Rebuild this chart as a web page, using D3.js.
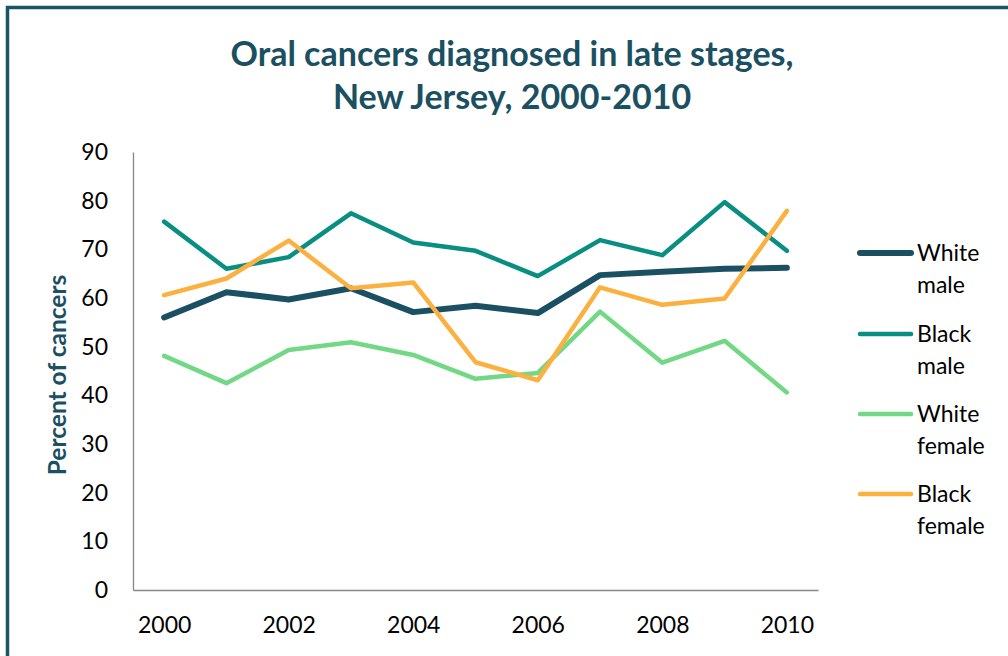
<!DOCTYPE html>
<html>
<head>
<meta charset="utf-8">
<script src="https://cdn.jsdelivr.net/npm/d3@7"></script>
<style>
  html, body { margin: 0; padding: 0; background: #fff; }
  svg { display: block; }
</style>
</head>
<body>
<script>
const years = [2000, 2001, 2002, 2003, 2004, 2005, 2006, 2007, 2008, 2009, 2010];
const xTickLabels = [2000, 2002, 2004, 2006, 2008, 2010];
const yTicks = [0, 10, 20, 30, 40, 50, 60, 70, 80, 90];
const seriesNames = ["White\nmale", "Black\nmale", "White\nfemale", "Black\nfemale"];
const whiteMale   = [56.0, 61.2, 59.7, 62.0, 57.1, 58.4, 56.9, 64.7, 65.4, 66.0, 66.2];
const blackMale   = [75.7, 66.0, 68.4, 77.4, 71.4, 69.7, 64.5, 71.9, 68.8, 79.7, 69.7];
const whiteFemale = [48.1, 42.5, 49.3, 50.9, 48.3, 43.4, 44.6, 57.2, 46.7, 51.2, 40.6];
const blackFemale = [60.6, 64.0, 71.8, 62.0, 63.2, 46.8, 43.1, 62.2, 58.6, 59.9, 77.9];
const seriesValues = [whiteMale, blackMale, whiteFemale, blackFemale];
const seriesColors = ["#1b4f62", "#088f82", "#72d885", "#fbb040"];
const seriesWidths = [6, 4.5, 4.5, 4.5];

(function () {
const W = 1008, H = 656;
const svg = d3.select("body").append("svg").attr("width", W).attr("height", H);
const font = "Lato, 'Open Sans', sans-serif";

// frame
svg.append("path")
  .attr("d", `M7.5,${H + 5} L7.5,7.5 L${W + 5},7.5`)
  .attr("fill", "none").attr("stroke", "#1d5367").attr("stroke-width", 3.5);

// title
const title = svg.append("text")
  .attr("x", 512).attr("text-anchor", "middle")
  .attr("font-family", font).attr("font-weight", "bold")
  .attr("font-size", 34).attr("fill", "#1b4f62");
title.append("tspan").attr("x", 512).attr("y", 66).text("Oral cancers diagnosed in late stages,");
title.append("tspan").attr("x", 512).attr("y", 109).text("New Jersey, 2000-2010");

const pl = 133, pr = 818, pt = 152, pb = 590;
const x = d3.scalePoint().domain(years).range([pl, pr]).padding(0.5);
const y = d3.scaleLinear().domain([0, 90]).range([pb, pt]);

// axes
const yAxis = svg.append("g").attr("transform", `translate(${pl},0)`)
  .call(d3.axisLeft(y).tickValues(yTicks).tickSize(0).tickPadding(25));
const xAxis = svg.append("g").attr("transform", `translate(0,${pb})`)
  .call(d3.axisBottom(x).tickValues(xTickLabels).tickSize(0).tickPadding(27));
[yAxis, xAxis].forEach(g => {
  g.select(".domain").attr("stroke", "#868686").attr("stroke-width", 1.3);
  g.selectAll("text").attr("font-family", font).attr("font-size", 23).attr("fill", "#000");
});

// y label
svg.append("text")
  .attr("transform", `translate(66,375) rotate(-90)`)
  .attr("text-anchor", "middle")
  .attr("font-family", font).attr("font-weight", "bold")
  .attr("font-size", 24.5).attr("fill", "#1b4f62")
  .text("Percent of cancers");

// lines
const line = d3.line().x((d, i) => x(years[i])).y(d => y(d));
seriesValues.forEach((vals, k) => {
  svg.append("path").datum(vals)
    .attr("d", line)
    .attr("fill", "none")
    .attr("stroke", seriesColors[k])
    .attr("stroke-width", seriesWidths[k])
    .attr("stroke-linecap", "round")
    .attr("stroke-linejoin", "round");
});

// legend
const legendY = [253, 334, 414, 494];
seriesNames.forEach((name, k) => {
  const g = svg.append("g").attr("transform", `translate(0,${legendY[k]})`);
  g.append("line").attr("x1", 860).attr("x2", 911).attr("y1", 0).attr("y2", 0)
    .attr("stroke", seriesColors[k]).attr("stroke-width", seriesWidths[k])
    .attr("stroke-linecap", "round");
  const t = g.append("text").attr("font-family", font).attr("font-size", 23).attr("fill", "#000");
  name.split("\n").forEach((s, j) => {
    t.append("tspan").attr("x", 917).attr("y", 8 + j * 32).text(s);
  });
});
})();
</script>
</body>
</html>
